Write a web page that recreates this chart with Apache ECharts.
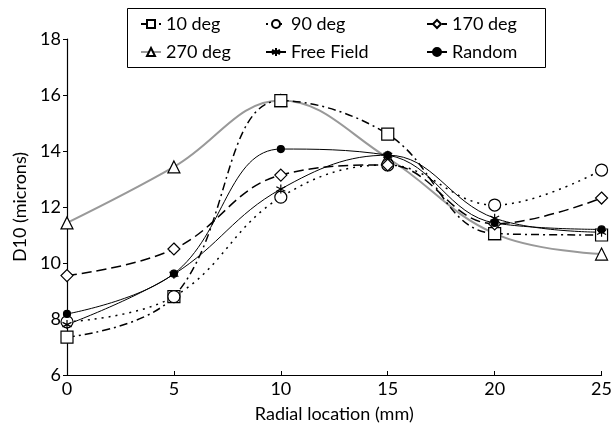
<!DOCTYPE html>
<html>
<head>
<meta charset="utf-8">
<script src="https://cdn.jsdelivr.net/npm/echarts@6/dist/echarts.min.js"></script>
<style>
  html, body { margin: 0; padding: 0; background: #fff; }
  #chart { width: 615px; height: 433px; }
</style>
</head>
<body>
<div id="chart"></div>
<script>
// radial location (mm)
const radial = [0, 5, 10, 15, 20, 25]
const yTicks = [6, 8, 10, 12, 14, 16, 18]

// D10 (microns) per orientation
const deg10 = [7.35, 8.8, 15.8, 14.6, 11.05, 11.0]
const deg90 = [7.9, 8.8, 12.35, 13.5, 12.07, 13.32]
const deg170 = [9.55, 10.5, 13.14, 13.5, 11.4, 12.32]
const deg270 = [11.43, 13.43, 15.8, 13.75, 11.05, 10.32]
const freeField = [7.8, 9.6, 12.64, 13.85, 11.6, 11.1]
const random = [8.18, 9.62, 14.07, 13.85, 11.43, 11.2]

const font = 'Lato'
const asterisk = 'path://M5,0L5,10M0.7,2.5L9.3,7.5M0.7,7.5L9.3,2.5'

const pairs = arr => radial.map((x, i) => [x, arr[i]])

const makeSeries = (name, data, symbol, size, line, item) => ({
  name,
  type: 'line',
  smooth: 0.4,
  data: pairs(data),
  symbol,
  symbolSize: size,
  showAllSymbol: true,
  lineStyle: Object.assign({ color: '#000', width: 1.2 }, line),
  itemStyle: Object.assign({ color: '#fff', borderColor: '#000', borderWidth: 1.2 }, item),
  emphasis: { disabled: true }
})

const chart = echarts.init(document.getElementById('chart'))

// one legend per slot so the columns line up like the original
const legendSlot = (name, left, top) => ({
  data: [name],
  left,
  top,
  z: 10,
  itemWidth: 20,
  itemHeight: 10,
  textStyle: { fontFamily: font, fontSize: 18, color: '#000' },
  selectedMode: false
})

chart.setOption({
  animation: false,
  grid: { left: 67, right: 13, top: 39, bottom: 58 },
  graphic: [{
    type: 'rect',
    shape: { x: 127.5, y: 8.5, width: 418, height: 59 },
    style: { fill: '#fff', stroke: '#000', lineWidth: 1 },
    z: 5
  }],
  legend: [
    legendSlot('10 deg', 135, 10),
    legendSlot('90 deg', 260, 10),
    legendSlot('170 deg', 421, 10),
    legendSlot('270 deg', 135, 38),
    legendSlot('Free Field', 260, 38),
    legendSlot('Random', 421, 38)
  ],
  xAxis: {
    type: 'value',
    min: 0,
    max: 25,
    interval: 5,
    name: 'Radial location (mm)',
    nameLocation: 'middle',
    nameGap: 30,
    nameTextStyle: { fontFamily: font, fontSize: 18, color: '#000' },
    axisLine: { lineStyle: { color: '#000', width: 1.2 } },
    axisTick: { inside: true, length: 4, lineStyle: { color: '#000' } },
    axisLabel: { fontFamily: font, fontSize: 18, color: '#000', margin: 5 },
    splitLine: { show: false }
  },
  yAxis: {
    type: 'value',
    min: yTicks[0],
    max: yTicks[yTicks.length - 1],
    interval: 2,
    name: 'D10 (microns)',
    nameLocation: 'middle',
    nameGap: 38,
    nameTextStyle: { fontFamily: font, fontSize: 18, color: '#000' },
    axisLine: { show: true, lineStyle: { color: '#000', width: 1.2 } },
    axisTick: { show: true, length: 4, lineStyle: { color: '#000' } },
    axisLabel: { fontFamily: font, fontSize: 18, color: '#000', margin: 6 },
    splitLine: { show: false }
  },
  series: [
    makeSeries('270 deg', deg270, 'triangle', 12, { color: '#999', width: 2 }),
    makeSeries('10 deg', deg10, 'rect', 12, { type: [8, 4, 2, 4], width: 1.5 }),
    makeSeries('90 deg', deg90, 'circle', 12, { type: [2, 5], width: 1.5 }),
    makeSeries('170 deg', deg170, 'diamond', 12, { type: [10, 5], width: 1.5 }),
    makeSeries('Free Field', freeField, asterisk, 9, { width: 1 }, { color: 'none', borderWidth: 1.2 }),
    makeSeries('Random', random, 'circle', 7, { width: 1 }, { color: '#000' })
  ]
})
</script>
</body>
</html>
